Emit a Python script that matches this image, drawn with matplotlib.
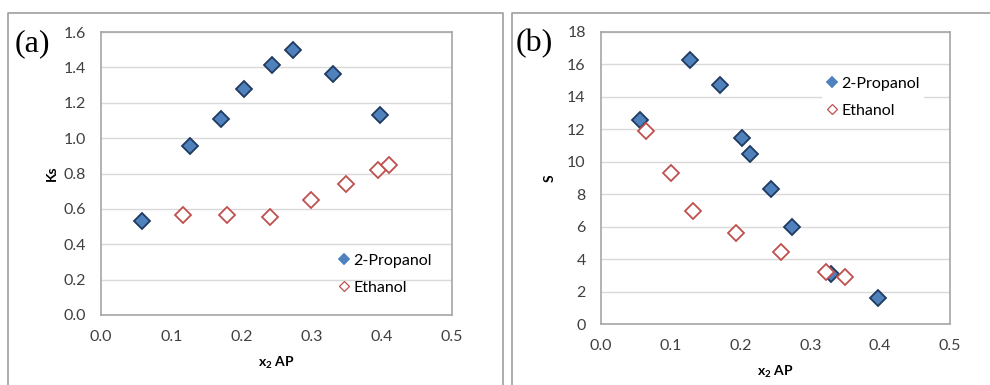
import matplotlib
matplotlib.use("Agg")
import matplotlib.pyplot as plt
from matplotlib.lines import Line2D

plt.rcParams['font.family'] = ['Lato', 'DejaVu Sans']
plt.rcParams['mathtext.fontset'] = 'custom'
plt.rcParams['mathtext.rm'] = 'Lato'
plt.rcParams['mathtext.bf'] = 'Lato:bold'

# (a) Ks vs x2 AP
ks_prop_x = [0.058, 0.127, 0.171, 0.204, 0.244, 0.274, 0.330, 0.397]
ks_prop_y = [0.531, 0.956, 1.107, 1.276, 1.414, 1.496, 1.363, 1.133]
ks_eth_x = [0.117, 0.179, 0.241, 0.299, 0.349, 0.394, 0.410]
ks_eth_y = [0.565, 0.565, 0.553, 0.649, 0.738, 0.819, 0.849]

# (b) S vs x2 AP
s_prop_x = [0.056, 0.127, 0.171, 0.2025, 0.2135, 0.243, 0.274, 0.329, 0.397]
s_prop_y = [12.56, 16.26, 14.72, 11.49, 10.47, 8.35, 5.95, 3.08, 1.62]
s_eth_x = [0.0645, 0.100, 0.132, 0.194, 0.258, 0.323, 0.350]
s_eth_y = [11.88, 9.28, 6.98, 5.64, 4.43, 3.22, 2.91]

x_ticks = [0.0, 0.1, 0.2, 0.3, 0.4, 0.5]
ks_ticks = [0.0, 0.2, 0.4, 0.6, 0.8, 1.0, 1.2, 1.4, 1.6]
s_ticks = [0, 2, 4, 6, 8, 10, 12, 14, 16, 18]

BLUE = '#4F81BD'
NAVY = '#1F3A5F'
RED = '#C0504D'

W, H = 990, 385
fig = plt.figure(figsize=(9.9, 3.85), dpi=100)


def fx(px):
    return px / W


def fy(py):
    return 1 - py / H


# chart-area frames
fc = '#A6A6A6'
for xs, ys in [([8, 8, 503, 503], [385, 13, 13, 385]),
               ([512, 512, 990], [385, 13, 13])]:
    fig.add_artist(Line2D([fx(v) for v in xs], [fy(v) for v in ys],
                          color=fc, lw=1.3, transform=fig.transFigure))


def style(ax, yticks, fmt):
    ax.set_xlim(0, 0.5)
    ax.set_ylim(yticks[0], yticks[-1])
    ax.set_xticks(x_ticks)
    ax.set_xticklabels(['%.1f' % v for v in x_ticks])
    ax.set_yticks(yticks)
    ax.set_yticklabels([fmt % v for v in yticks])
    ax.grid(axis='y', color='#D9D9D9', lw=1)
    ax.set_axisbelow(True)
    for s in ax.spines.values():
        s.set_color('#A6A6A6')
        s.set_linewidth(1.2)
    ax.tick_params(length=0, labelsize=11.5, colors='#404040', pad=11)


def draw(ax, px, py, ex, ey):
    ax.plot(px, py, ls='none', marker='D', ms=8.5, mfc=BLUE, mec=NAVY,
            mew=1.3, label='2-Propanol', zorder=3)
    ax.plot(ex, ey, ls='none', marker='D', ms=8.5, mfc='white', mec=RED,
            mew=1.3, label='Ethanol', zorder=3)


def fix_legend(leg):
    hs = leg.legend_handles
    hs[0].set_markeredgecolor(BLUE)
    hs[1].set_markeredgewidth(0.9)


ax1 = fig.add_axes([fx(101), fy(315), fx(452 - 101), (315 - 32) / H])
draw(ax1, ks_prop_x, ks_prop_y, ks_eth_x, ks_eth_y)
style(ax1, ks_ticks, '%.1f')
ax1.set_xlabel(r'$\mathbf{x_2}$ AP', fontweight='bold', fontsize=10, labelpad=8)
ax1.set_ylabel('Ks', fontweight='bold', fontsize=10, labelpad=4)

ax2 = fig.add_axes([fx(601), fy(324), fx(950 - 601), (324 - 32) / H])
draw(ax2, s_prop_x, s_prop_y, s_eth_x, s_eth_y)
style(ax2, s_ticks, '%d')
ax2.set_xlabel(r'$\mathbf{x_2}$ AP', fontweight='bold', fontsize=10, labelpad=8)
ax2.set_ylabel('S', fontweight='bold', fontsize=10, labelpad=8)

leg_kw = dict(loc='upper left', bbox_transform=fig.transFigure, fontsize=11.5,
              handlelength=0.6, handletextpad=0.3, labelspacing=0.8,
              borderpad=0.3, markerscale=0.65)
l1 = ax1.legend(bbox_to_anchor=(fx(326), fy(241)), frameon=False, **leg_kw)
fix_legend(l1)
l2 = ax2.legend(bbox_to_anchor=(fx(814), fy(64)), frameon=True,
                fancybox=False, edgecolor='none', facecolor='white',
                framealpha=1, **leg_kw)
fix_legend(l2)

fig.text(fx(15), fy(44), '(a)', fontsize=23, family='Liberation Serif',
         va='center', ha='left')
fig.text(fx(516), fy(44), '(b)', fontsize=23, family='Liberation Serif',
         va='center', ha='left')

fig.savefig('out.png', dpi=100)
